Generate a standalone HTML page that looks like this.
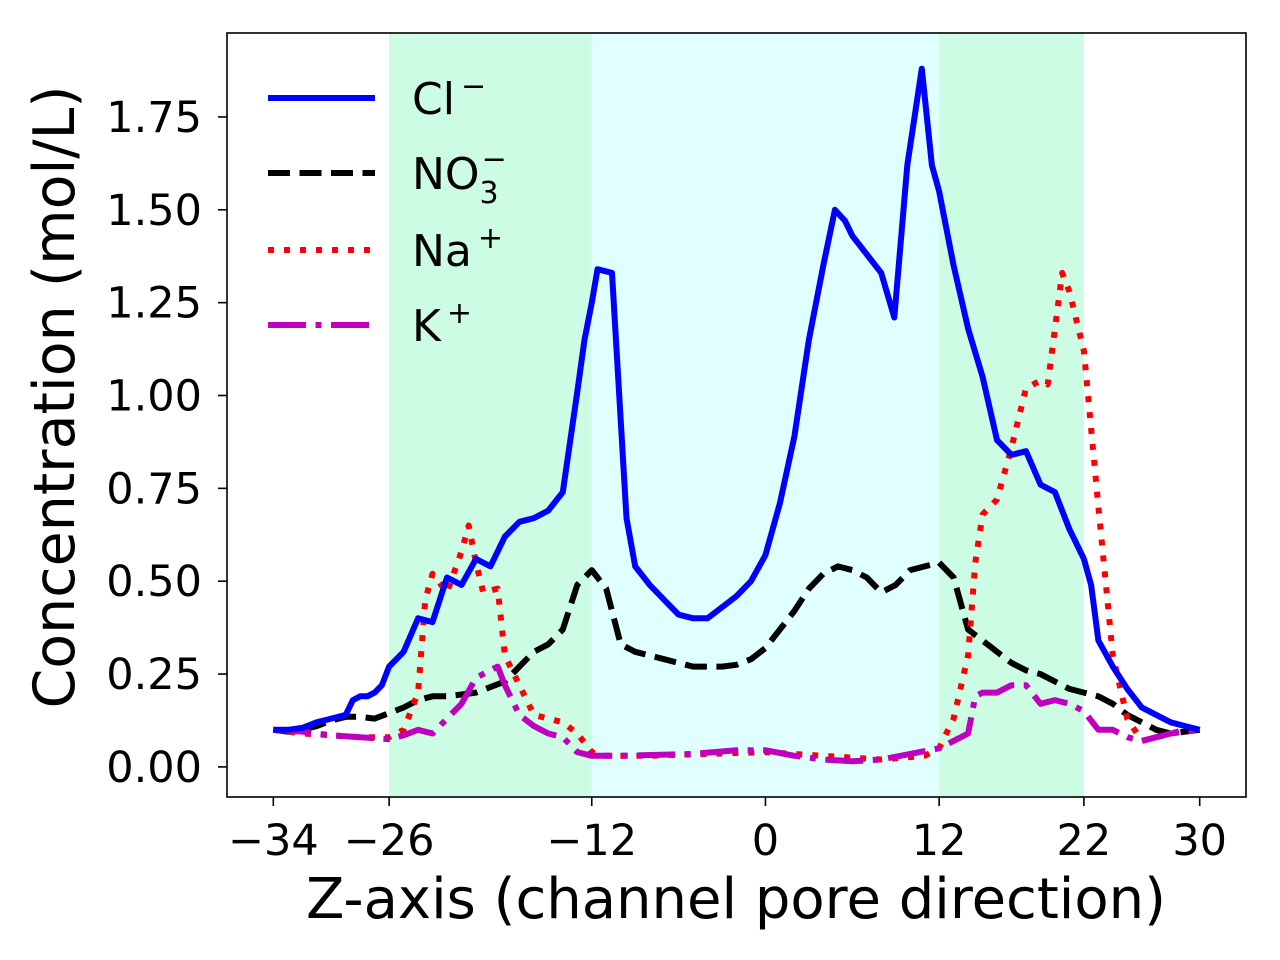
<!DOCTYPE html>
<html><head><meta charset="utf-8"><style>
html,body{margin:0;padding:0;background:#fff;}
svg{display:block;font-family:"DejaVu Sans","Liberation Sans",sans-serif;}
</style></head><body>
<svg id="chart" width="1280" height="960" viewBox="0 0 1280 960" xmlns="http://www.w3.org/2000/svg">
<g id="spans"></g><g id="series"></g><g id="axes"></g><g id="legend"></g>
</svg>
<script>
const xTicks=[-34,-26,-12,0,12,22,30];
const yTicks=[0,0.25,0.5,0.75,1.0,1.25,1.5,1.75];
const yTickLabels=["0.00","0.25","0.50","0.75","1.00","1.25","1.50","1.75"];
const regionStarts=[-26,-12,12];
const regionEnds=[-12,12,22];
const regionColors=["#ccfce4","#e0ffff","#ccfce4"];
const clX=[-34,-33,-32,-31,-30,-29,-28.5,-28,-27.5,-27,-26.5,-26,-25,-24,-23,-22,-21,-20,-19,-18,-17,-16,-15,-14,-13,-12.5,-12,-11.6,-10.6,-9.6,-9,-8,-7,-6,-5,-4,-3,-2,-1,0,1,2,3,4,4.8,5.5,6,7,8,8.9,9.8,10.8,11.5,12,13,14,15,16,17,18,19,20,21,22,22.5,23,24,25,26,27,28,29,30];
const clY=[0.10,0.10,0.105,0.12,0.13,0.14,0.18,0.19,0.19,0.20,0.22,0.27,0.31,0.40,0.39,0.51,0.49,0.56,0.54,0.62,0.66,0.67,0.69,0.74,1.01,1.15,1.25,1.34,1.33,0.67,0.54,0.49,0.45,0.41,0.40,0.40,0.43,0.46,0.50,0.57,0.71,0.89,1.15,1.35,1.50,1.47,1.43,1.38,1.33,1.21,1.62,1.88,1.62,1.55,1.35,1.18,1.05,0.88,0.84,0.85,0.76,0.74,0.64,0.56,0.49,0.34,0.27,0.21,0.16,0.14,0.12,0.11,0.10];
const noX=[-34,-33,-32,-31,-30,-29,-28,-27,-26,-25,-24,-23,-22,-21,-20,-19,-18,-17,-16,-15,-14,-13,-12,-11,-10,-9,-8,-7,-6,-5,-4,-3,-2,-1,0,1,2,3,4,5,6,7,8,9,10,11,12,13,14,15,16,17,18,19,20,21,22,23,24,25,26,27,28,29,30];
const noY=[0.10,0.095,0.10,0.11,0.125,0.135,0.135,0.13,0.145,0.16,0.18,0.19,0.19,0.195,0.20,0.215,0.23,0.27,0.31,0.33,0.37,0.49,0.53,0.48,0.33,0.31,0.30,0.29,0.28,0.27,0.27,0.27,0.275,0.29,0.32,0.37,0.42,0.48,0.52,0.54,0.53,0.51,0.47,0.49,0.53,0.54,0.55,0.51,0.37,0.34,0.31,0.28,0.26,0.25,0.23,0.21,0.20,0.19,0.17,0.14,0.12,0.10,0.09,0.095,0.10];
const naX=[-34,-32,-30,-28,-26,-25,-24,-23.5,-23,-22,-21,-20.5,-20,-19.5,-18.5,-18,-17,-16,-15,-14,-13,-12,-11,-8,-4,0,4,8,11,12,13,14,14.5,15,16,17,18,19,19.5,20.5,21,22,23,24,25,26,27,28,29,30];
const naY=[0.10,0.09,0.085,0.08,0.08,0.10,0.20,0.45,0.52,0.47,0.58,0.65,0.55,0.47,0.48,0.30,0.22,0.14,0.13,0.12,0.09,0.04,0.03,0.03,0.035,0.04,0.03,0.02,0.03,0.05,0.13,0.30,0.55,0.68,0.72,0.86,1.02,1.04,1.03,1.33,1.28,1.12,0.70,0.30,0.13,0.07,0.08,0.09,0.10,0.10];
const kX=[-34,-32,-30,-28,-26,-25,-24,-23,-22,-21,-20,-19,-18.5,-18,-17,-16,-15,-14,-13,-12,-10,-5,-2,0,2,4,6,8,10,12,13,14,14.5,15,16,17,18,19,20,21,22,23,24,25,26,27,28,30];
const kY=[0.10,0.095,0.085,0.08,0.075,0.085,0.10,0.09,0.13,0.17,0.24,0.26,0.27,0.22,0.14,0.11,0.09,0.08,0.04,0.03,0.03,0.035,0.045,0.045,0.03,0.02,0.015,0.02,0.035,0.05,0.07,0.09,0.19,0.20,0.20,0.22,0.22,0.17,0.18,0.17,0.15,0.10,0.10,0.08,0.07,0.08,0.09,0.10];

const NS="http://www.w3.org/2000/svg";
const L=227,R=1246,T=33,B=797;
const xmin=-37.2,xmax=33.2,ymin=-0.081,ymax=1.976;
const sx=v=>L+(v-xmin)/(xmax-xmin)*(R-L);
const sy=v=>B-(v-ymin)/(ymax-ymin)*(B-T);
function mk(tag,attrs,parent){const e=document.createElementNS(NS,tag);for(const k in attrs)e.setAttribute(k,attrs[k]);parent.appendChild(e);return e;}

const spans=document.getElementById('spans');
regionStarts.forEach((s,i)=>{
  const r=mk('rect',{x:sx(s),y:T,width:sx(regionEnds[i])-sx(s),height:B-T,fill:regionColors[i]},spans);
  
  
});

const ser=document.getElementById('series');
function line(xs,ys,color,dash,name){
  const d=xs.map((x,i)=>(i?'L':'M')+sx(x).toFixed(1)+','+sy(ys[i]).toFixed(1)).join(' ');
  const p=mk('path',{d:d,fill:'none',stroke:color,'stroke-width':6,'stroke-linejoin':'round'},ser);
  if(dash)p.setAttribute('stroke-dasharray',dash);
  
  
}
line(noX,noY,'#000','22,9.5','no3-line');
line(naX,naY,'#ff0000','6,10','na-line');
line(kX,kY,'#bf00bf','38,9.5,6,9.5','k-line');
line(clX,clY,'#0000ff',null,'cl-line');

const ax=document.getElementById('axes');
const frame=mk('rect',{x:L,y:T,width:R-L,height:B-T,fill:'none',stroke:'#000','stroke-width':1.6},ax);


xTicks.forEach(v=>{
  mk('line',{x1:sx(v),x2:sx(v),y1:B,y2:B+9,stroke:'#000','stroke-width':1.6},ax);
  const t=mk('text',{x:sx(v),y:B+58,'font-size':43,'text-anchor':'middle'},ax);
  t.textContent=(v<0?'\u2212'+(-v):String(v));
  
  
});
yTicks.forEach((v,i)=>{
  mk('line',{x1:L-9,x2:L,y1:sy(v),y2:sy(v),stroke:'#000','stroke-width':1.6},ax);
  const t=mk('text',{x:L-25,y:sy(v)+15,'font-size':43,'text-anchor':'end'},ax);
  t.textContent=yTickLabels[i];
  
  
});
const xl=mk('text',{x:736,y:918,'font-size':56,'text-anchor':'middle'},ax);
xl.textContent='Z-axis (channel pore direction)';


const yl=mk('text',{x:0,y:0,'font-size':57,'text-anchor':'middle',transform:'translate(74,397) rotate(-90)'},ax);
yl.textContent='Concentration (mol/L)';



const lg=document.getElementById('legend');
const entries=[['#0000ff',null,'Cl','\u2212',98,'legend-entry-cl'],['#000','22,9.5','NO','\u2212',173,'legend-entry-no3'],['#ff0000','6,10','Na','+',250,'legend-entry-na'],['#bf00bf','38,9.5,6,9.5','K','+',325,'legend-entry-k']];
entries.forEach(e=>{
  const g=mk('g',{},lg);
  
  
  const l=mk('line',{x1:268,x2:375,y1:e[4],y2:e[4],stroke:e[0],'stroke-width':6},g);
  if(e[1])l.setAttribute('stroke-dasharray',e[1]);
  const t=mk('text',{x:412,y:e[4]+16,'font-size':44},g);
  t.textContent=e[2];
  if(e[2]==='NO'){
    const s=mk('tspan',{'font-size':30,dy:14},t);s.textContent='3';
    const s2=mk('tspan',{'font-size':30,dx:-17,dy:-34},t);s2.textContent=e[3];
  } else {
    const s=mk('tspan',{'font-size':30,dx:6,dy:-18},t);s.textContent=e[3];
  }
});
</script>
</body></html>
